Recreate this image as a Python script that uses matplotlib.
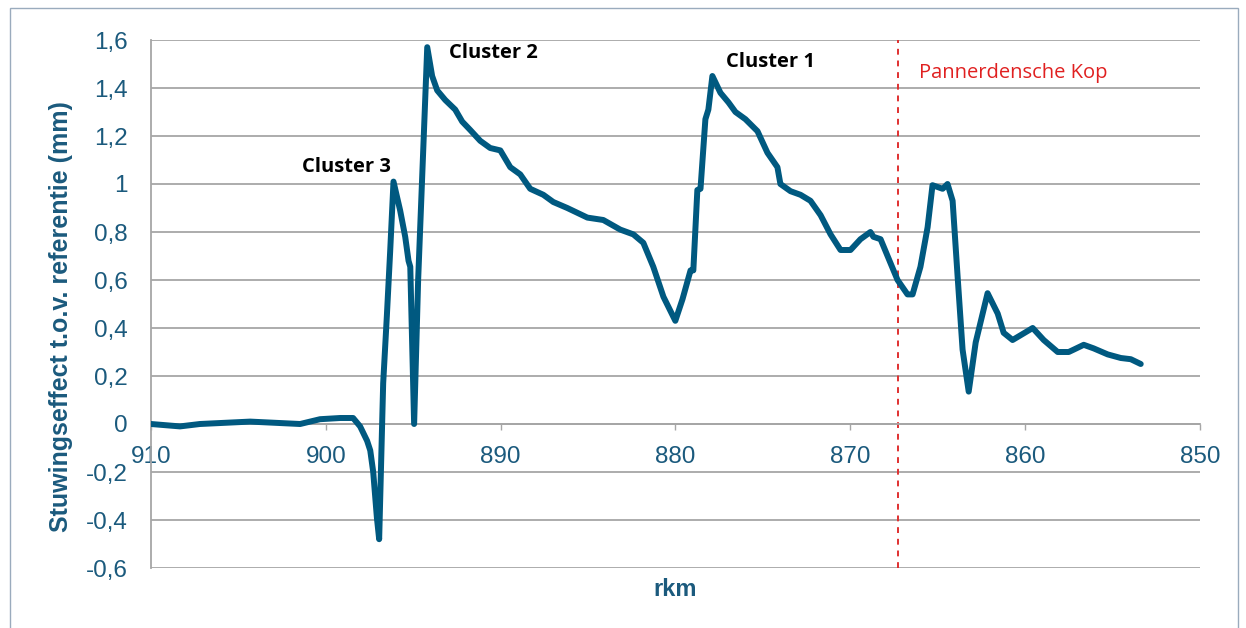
import matplotlib
matplotlib.use("Agg")
from matplotlib import pyplot as plt
from matplotlib.ticker import FuncFormatter
from matplotlib.patches import Rectangle

# rivierkilometer en stuwingseffect (mm)
rkm = [910.0, 908.34, 907.2, 904.33, 901.47, 900.33, 899.18, 898.44, 898.04, 897.64,
       897.46, 897.29, 897.08, 896.95, 896.72, 896.51, 896.32, 896.13, 895.75, 895.46,
       895.27, 895.17, 894.95, 894.72, 894.43, 894.20, 893.92, 893.63, 893.17, 892.60,
       892.20, 891.74, 891.17, 890.60, 890.02, 889.45, 888.88, 888.31, 887.56, 886.99,
       886.19, 885.04, 884.13, 883.16, 882.41, 881.84, 881.27, 880.69, 880.01, 879.60,
       879.14, 878.98, 878.75, 878.57, 878.29, 878.12, 877.89, 877.43, 876.97, 876.57,
       876.00, 875.31, 874.74, 874.17, 874.00, 873.42, 872.85, 872.28, 871.70, 871.13,
       870.56, 869.99, 869.42, 868.85, 868.68, 868.27, 867.70, 867.30, 866.73, 866.44,
       865.99, 865.58, 865.30, 864.72, 864.44, 864.15, 863.86, 863.58, 863.23, 862.83,
       862.15, 861.57, 861.23, 860.72, 859.57, 858.94, 858.14, 857.51, 857.22, 856.65,
       856.08, 855.28, 854.53, 853.96, 853.39]
effect = [0.0, -0.01, 0.0, 0.01, 0.0, 0.02, 0.025, 0.025, -0.01, -0.07,
          -0.11, -0.2, -0.39, -0.48, 0.17, 0.45, 0.72, 1.01, 0.89, 0.78,
          0.68, 0.655, 0.0, 0.6, 1.14, 1.57, 1.45, 1.39, 1.35, 1.31,
          1.26, 1.225, 1.18, 1.15, 1.14, 1.07, 1.04, 0.98, 0.955, 0.925,
          0.90, 0.86, 0.85, 0.81, 0.79, 0.755, 0.655, 0.53, 0.43, 0.52,
          0.64, 0.64, 0.975, 0.98, 1.27, 1.31, 1.45, 1.38, 1.34, 1.30,
          1.27, 1.22, 1.13, 1.07, 1.0, 0.97, 0.955, 0.93, 0.87, 0.79,
          0.725, 0.725, 0.77, 0.80, 0.78, 0.77, 0.67, 0.60, 0.54, 0.54,
          0.655, 0.82, 0.995, 0.98, 1.0, 0.93, 0.61, 0.31, 0.135, 0.34,
          0.545, 0.46, 0.38, 0.35, 0.40, 0.35, 0.30, 0.30, 0.31, 0.33,
          0.315, 0.29, 0.275, 0.27, 0.25]

clusters = ["Cluster 3", "Cluster 2", "Cluster 1"]
cluster_x = [898.84, 890.42, 874.57]
cluster_y = [1.071, 1.546, 1.508]

pk_rkm = 867.3
pk_label = "Pannerdensche Kop"

blauw = "#005980"
tekst_blauw = "#1b5a7d"


def komma(v, pos):
    s = ("%.1f" % v).replace(".", ",")
    if s.endswith(",0"):
        s = s[:-2]
    if s == "-0":
        s = "0"
    return s


fig = plt.figure(figsize=(12.46, 6.28), dpi=100)
ax = fig.add_axes([151 / 1246, 60 / 628, 1049 / 1246, 528 / 628])

# rand om de figuur
fig.patches.append(Rectangle((10 / 1246, -0.01), 1228 / 1246, 1.0 - 8 / 628 + 0.01,
                             transform=fig.transFigure, fill=False,
                             edgecolor="#9aabbd", linewidth=1.0))

ax.plot(rkm, effect, color=blauw, linewidth=4.3, solid_joinstyle="round",
        solid_capstyle="round", zorder=3)

ax.axvline(pk_rkm, color="#e03030", linestyle=(0, (3, 3)), linewidth=1.4, zorder=2)
ax.text(866.10, 1.4625, pk_label, color="#e02020", fontsize=14.5,
        family="Open Sans", va="center", ha="left")

for naam, cx, cy in zip(clusters, cluster_x, cluster_y):
    ax.text(cx, cy, naam, fontsize=14.5, fontweight="bold", family="Open Sans",
            ha="center", va="center", color="black")

ax.set_xlim(910, 850)
ax.set_ylim(-0.6, 1.6)
ax.set_yticks([-0.6, -0.4, -0.2, 0, 0.2, 0.4, 0.6, 0.8, 1.0, 1.2, 1.4, 1.6])
ax.set_xticks([910, 900, 890, 880, 870, 860, 850])
ax.yaxis.set_major_formatter(FuncFormatter(komma))
ax.grid(axis="y", color="#a6a6a6", linewidth=1.3)
ax.set_axisbelow(True)

for s in ["top", "right"]:
    ax.spines[s].set_visible(False)
ax.spines["left"].set_color("#a6a6a6")
ax.spines["left"].set_linewidth(1.3)
ax.spines["bottom"].set_position(("data", 0))
ax.spines["bottom"].set_color("#a6a6a6")
ax.spines["bottom"].set_linewidth(1.3)

ax.tick_params(axis="y", length=0, pad=17, labelsize=17.5, labelcolor=tekst_blauw)
ax.tick_params(axis="x", length=4, width=1.0, color="#a6a6a6", pad=12,
               labelsize=17.5, labelcolor=tekst_blauw)
for lbl in ax.get_xticklabels() + ax.get_yticklabels():
    lbl.set_family("Liberation Sans")

ax.set_xlabel("rkm", fontsize=17, fontweight="bold", color=tekst_blauw,
              family="Liberation Sans")
ax.xaxis.set_label_coords(0.5, -0.018)
ax.set_ylabel("Stuwingseffect t.o.v. referentie (mm)", fontsize=18,
              fontweight="bold", color=tekst_blauw, family="Liberation Sans")
ax.yaxis.set_label_coords(-0.074, 0.477)

plt.savefig("out.png", dpi=100)
